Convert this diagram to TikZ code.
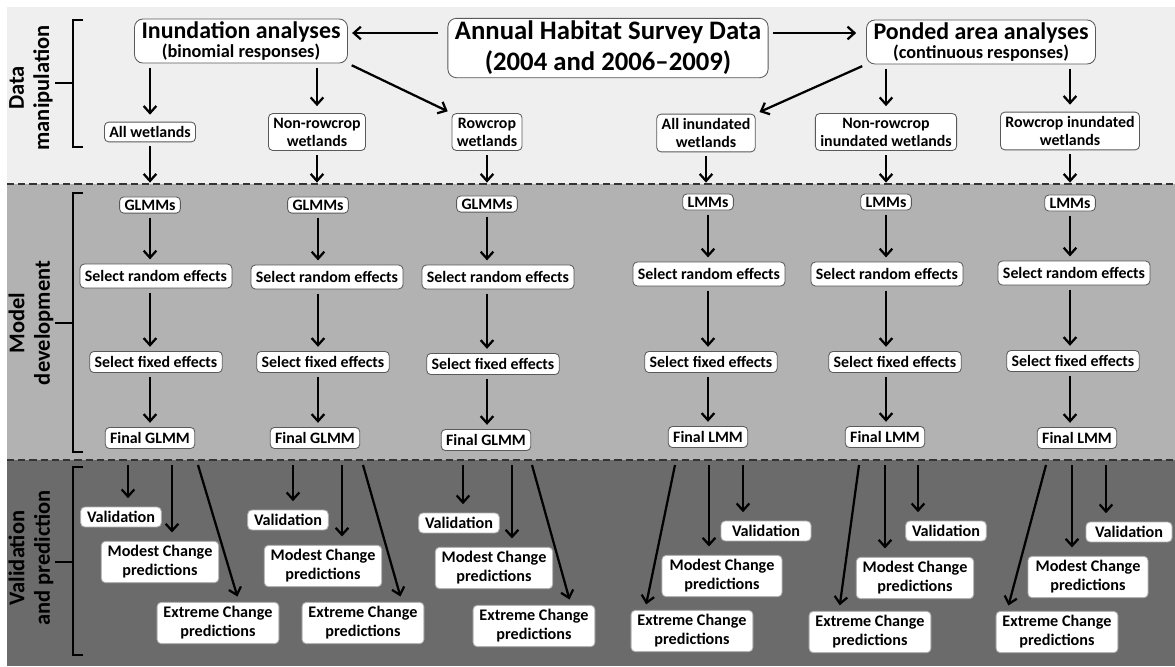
\documentclass[tikz,border=0pt]{standalone}
\usepackage{fontspec}
\setmainfont{Carlito}
\usetikzlibrary{arrows.meta,calc}

\definecolor{bandtop}{HTML}{EFEFEF}
\definecolor{bandmid}{HTML}{B2B2B2}
\definecolor{bandlow}{HTML}{6B6B6B}

\tikzset{
  box/.style={draw=black!65, fill=white, rounded corners=3pt, align=center,
    line width=0.6pt, inner xsep=3.5pt, inner ysep=3pt,
    font=\bfseries\fontsize{11.3}{12.8}\selectfont},
  bigbox/.style={box, rounded corners=6pt, inner xsep=5pt, inner ysep=2pt},
  lowbox/.style={box, draw=black!30, inner xsep=4.5pt, inner ysep=3pt,
    font=\bfseries\fontsize{11.5}{13.5}\selectfont},
  link/.style={-{Straight Barb[length=5pt,width=9pt]}, line width=1.6pt,
    shorten <=3pt, shorten >=3pt},
  cutline/.style={dash pattern=on 5pt off 3pt, line width=1.1pt, black!80},
  bracket/.style={line width=1.5pt},
  phase/.style={rotate=90, align=center, font=\bfseries\fontsize{16}{18}\selectfont}
}

\begin{document}
\begin{tikzpicture}[x=0.025cm, y=-0.025cm]
  \useasboundingbox (0,0) rectangle (1175,666);

  % Hintergrundbänder
  \fill[bandtop] (7,7) rectangle (1175,184);
  \fill[bandmid] (7,184) rectangle (1175,460);
  \fill[bandlow] (7,460) rectangle (1175,666);
  \coordinate (cut1) at (7,184);
  \coordinate (cut2) at (7,460);
  \draw[cutline] (cut1) -- (1175,184);
  \draw[cutline] (cut2) -- (1175,460);

  % Phasen links
  \node[phase] (phdata) at (31,88) {Data\\manipulation};
  \draw[bracket] (83,20) -- (73,20) -- (73,147) -- (83,147);
  \draw[bracket] (55,83) -- (73,83);
  \node[phase] (phmodel) at (31,323) {Model\\development};
  \draw[bracket] (83,193) -- (73,193) -- (73,452) -- (83,452);
  \draw[bracket] (55,323) -- (73,323);
  \node[phase] (phvalid) at (31,558) {Validation\\and prediction};
  \draw[bracket] (83,467) -- (73,467) -- (73,655) -- (83,655);
  \draw[bracket] (55,562) -- (73,562);

  % Datenaufbereitung
  \node[bigbox, font=\bfseries\fontsize{19}{22}\selectfont] (survey) at (608,48)
    {Annual Habitat Survey Data\\(2004 and 2006--2009)};
  \node[bigbox, font=\bfseries] (inund) at (241,41)
    {\fontsize{17}{19}\selectfont Inundation analyses\\\fontsize{13}{16}\selectfont (binomial responses)};
  \node[bigbox, font=\bfseries] (ponded) at (981,42)
    {\fontsize{17}{19}\selectfont Ponded area analyses\\\fontsize{13}{16}\selectfont (continuous responses)};
  \coordinate (toprow) at (0,33);
  \draw[link, shorten <=7pt] (survey.west |- toprow) -- (inund.east |- toprow);
  \draw[link, shorten >=7pt] (survey.east |- toprow) -- (ponded.west |- toprow);

  \node[box] (allw) at (150,132) {All wetlands};
  \node[box] (nrw) at (317,132) {Non-rowcrop\\wetlands};
  \node[box] (rcw) at (487,132) {Rowcrop\\wetlands};
  \node[box] (alli) at (706,133) {All inundated\\wetlands};
  \node[box] (nri) at (886,132) {Non-rowcrop\\inundated wetlands};
  \node[box] (rci) at (1070,131) {Rowcrop inundated\\wetlands};

  \draw[link, shorten >=5pt] (allw.north |- inund.south) -- (allw.north);
  \draw[link, shorten >=5pt] (nrw.north |- inund.south) -- (nrw.north);
  \draw[link] (inund.south east) -- (rcw.north west);
  \draw[link] (ponded.south west) -- (alli.north east);
  \draw[link, shorten >=5pt] (nri.north |- ponded.south) -- (nri.north);
  \draw[link, shorten >=5pt] (rci.north |- ponded.south) -- (rci.north);

  \draw[link, shorten >=1pt] (allw.south) -- (allw.south |- cut1);
  \draw[link, shorten >=1pt] (nrw.south) -- (nrw.south |- cut1);
  \draw[link, shorten >=1pt] (rcw.south) -- (rcw.south |- cut1);
  \draw[link, shorten >=1pt] (alli.south) -- (alli.south |- cut1);
  \draw[link, shorten >=1pt] (nri.south) -- (nri.south |- cut1);
  \draw[link, shorten >=1pt] (rci.south) -- (rci.south |- cut1);

  % Modellentwicklung
  \node[box, inner ysep=2pt] (mdl1) at (150,205) {GLMMs};
  \node[box, inner ysep=2pt] (mdl2) at (318,205) {GLMMs};
  \node[box, inner ysep=2pt] (mdl3) at (487,204) {GLMMs};
  \node[box, inner ysep=2pt] (mdl4) at (708,202) {LMMs};
  \node[box, inner ysep=2pt] (mdl5) at (886,202) {LMMs};
  \node[box, inner ysep=2pt] (mdl6) at (1070,203) {LMMs};

  \node[box, inner ysep=4.5pt] (rand1) at (156,276) {Select random effects};
  \node[box, inner ysep=4.5pt] (rand2) at (327,277) {Select random effects};
  \node[box, inner ysep=4.5pt] (rand3) at (498,277) {Select random effects};
  \node[box, inner ysep=4.5pt] (rand4) at (709,274) {Select random effects};
  \node[box, inner ysep=4.5pt] (rand5) at (887,274) {Select random effects};
  \node[box, inner ysep=4.5pt] (rand6) at (1074,273) {Select random effects};

  \node[box, inner ysep=3.5pt] (fix1) at (156,362) {Select fixed effects};
  \node[box, inner ysep=3.5pt] (fix2) at (323,362) {Select fixed effects};
  \node[box, inner ysep=3.5pt] (fix3) at (493,364) {Select fixed effects};
  \node[box, inner ysep=3.5pt] (fix4) at (711,362) {Select fixed effects};
  \node[box, inner ysep=3.5pt] (fix5) at (895,362) {Select fixed effects};
  \node[box, inner ysep=3.5pt] (fix6) at (1073,361) {Select fixed effects};

  \node[box, inner ysep=3.5pt] (fin1) at (150,438) {Final GLMM};
  \node[box, inner ysep=3.5pt] (fin2) at (315,438) {Final GLMM};
  \node[box, inner ysep=3.5pt] (fin3) at (486,440) {Final GLMM};
  \node[box, inner ysep=3.5pt] (fin4) at (708,437) {Final LMM};
  \node[box, inner ysep=3.5pt] (fin5) at (885,437) {Final LMM};
  \node[box, inner ysep=3.5pt] (fin6) at (1077,438) {Final LMM};

  \draw[link] (mdl1.south) -- (mdl1.south |- rand1.north);
  \draw[link] (rand1.south -| mdl1) -- (mdl1 |- fix1.north);
  \draw[link] (fix1.south -| mdl1) -- (mdl1 |- fin1.north);
  \draw[link] (mdl2.south) -- (mdl2.south |- rand2.north);
  \draw[link] (rand2.south -| mdl2) -- (mdl2 |- fix2.north);
  \draw[link] (fix2.south -| mdl2) -- (mdl2 |- fin2.north);
  \draw[link] (mdl3.south) -- (mdl3.south |- rand3.north);
  \draw[link] (rand3.south -| mdl3) -- (mdl3 |- fix3.north);
  \draw[link] (fix3.south -| mdl3) -- (mdl3 |- fin3.north);
  \draw[link] (mdl4.south) -- (mdl4.south |- rand4.north);
  \draw[link] (rand4.south -| mdl4) -- (mdl4 |- fix4.north);
  \draw[link] (fix4.south -| mdl4) -- (mdl4 |- fin4.north);
  \draw[link] (mdl5.south) -- (mdl5.south |- rand5.north);
  \draw[link] (rand5.south -| mdl5) -- (mdl5 |- fix5.north);
  \draw[link] (fix5.south -| mdl5) -- (mdl5 |- fin5.north);
  \draw[link] (mdl6.south) -- (mdl6.south |- rand6.north);
  \draw[link] (rand6.south -| mdl6) -- (mdl6 |- fix6.north);
  \draw[link] (fix6.south -| mdl6) -- (mdl6 |- fin6.north);

  % Validierung und Vorhersage
  \node[lowbox] (val1) at (121,517) {Validation};
  \node[lowbox] (val2) at (288,520) {Validation};
  \node[lowbox] (val3) at (459,523) {Validation};
  \node[lowbox, minimum width=2.25cm] (val4) at (766,531) {Validation};
  \node[lowbox, minimum width=1.9cm] (val5) at (946,531) {Validation};
  \node[lowbox, minimum width=2.15cm] (val6) at (1129,532) {Validation};

  \node[lowbox] (mod1) at (160,562) {Modest Change\\predictions};
  \node[lowbox] (mod2) at (323,566) {Modest Change\\predictions};
  \node[lowbox] (mod3) at (494,568) {Modest Change\\predictions};
  \node[lowbox, minimum width=3cm] (mod4) at (722,576) {Modest Change\\predictions};
  \node[lowbox] (mod5) at (915,578) {Modest Change\\predictions};
  \node[lowbox, minimum width=3cm] (mod6) at (1088,577) {Modest Change\\predictions};

  \node[lowbox] (ext1) at (218,623) {Extreme Change\\predictions};
  \node[lowbox] (ext2) at (363,623) {Extreme Change\\predictions};
  \node[lowbox] (ext3) at (534,626) {Extreme Change\\predictions};
  \node[lowbox] (ext4) at (692,631) {Extreme Change\\predictions};
  \node[lowbox] (ext5) at (870,632) {Extreme Change\\predictions};
  \node[lowbox] (ext6) at (1057,632) {Extreme Change\\predictions};

  \coordinate (go1v) at (128,465);  \coordinate (go1m) at (172,465);  \coordinate (go1e) at (198,465);
  \coordinate (go2v) at (293,465);  \coordinate (go2m) at (342,465);  \coordinate (go2e) at (363,465);
  \coordinate (go3v) at (463,465);  \coordinate (go3m) at (512,465);  \coordinate (go3e) at (532,465);
  \coordinate (go4v) at (743,465);  \coordinate (go4m) at (709,465);  \coordinate (go4e) at (675,465);
  \coordinate (go5v) at (918,465);  \coordinate (go5m) at (885,465);  \coordinate (go5e) at (859,465);
  \coordinate (go6v) at (1106,465); \coordinate (go6m) at (1072,465); \coordinate (go6e) at (1046,465);

  \draw[link, shorten <=0pt, shorten >=6pt] (go1v) -- (go1v |- val1.north);
  \draw[link, shorten <=0pt, shorten >=6pt] (go1m) -- (go1m |- mod1.north);
  \draw[link, shorten <=0pt, shorten >=4pt] (go1e) -- ($(ext1.north)+(21,0)$);
  \draw[link, shorten <=0pt, shorten >=6pt] (go2v) -- (go2v |- val2.north);
  \draw[link, shorten <=0pt, shorten >=6pt] (go2m) -- (go2m |- mod2.north);
  \draw[link, shorten <=0pt, shorten >=4pt] (go2e) -- ($(ext2.north)+(39,0)$);
  \draw[link, shorten <=0pt, shorten >=6pt] (go3v) -- (go3v |- val3.north);
  \draw[link, shorten <=0pt, shorten >=6pt] (go3m) -- (go3m |- mod3.north);
  \draw[link, shorten <=0pt, shorten >=4pt] (go3e) -- ($(ext3.north)+(37,0)$);
  \draw[link, shorten <=0pt, shorten >=6pt] (go4v) -- (go4v |- val4.north);
  \draw[link, shorten <=0pt, shorten >=6pt] (go4m) -- (go4m |- mod4.north);
  \draw[link, shorten <=0pt, shorten >=4pt] (go4e) -- ($(ext4.north)+(-47,0)$);
  \draw[link, shorten <=0pt, shorten >=6pt] (go5v) -- (go5v |- val5.north);
  \draw[link, shorten <=0pt, shorten >=6pt] (go5m) -- (go5m |- mod5.north);
  \draw[link, shorten <=0pt, shorten >=4pt] (go5e) -- ($(ext5.north)+(-31,0)$);
  \draw[link, shorten <=0pt, shorten >=6pt] (go6v) -- (go6v |- val6.north);
  \draw[link, shorten <=0pt, shorten >=6pt] (go6m) -- (go6m |- mod6.north);
  \draw[link, shorten <=0pt, shorten >=4pt] (go6e) -- ($(ext6.north)+(-50,0)$);
\end{tikzpicture}
\end{document}
